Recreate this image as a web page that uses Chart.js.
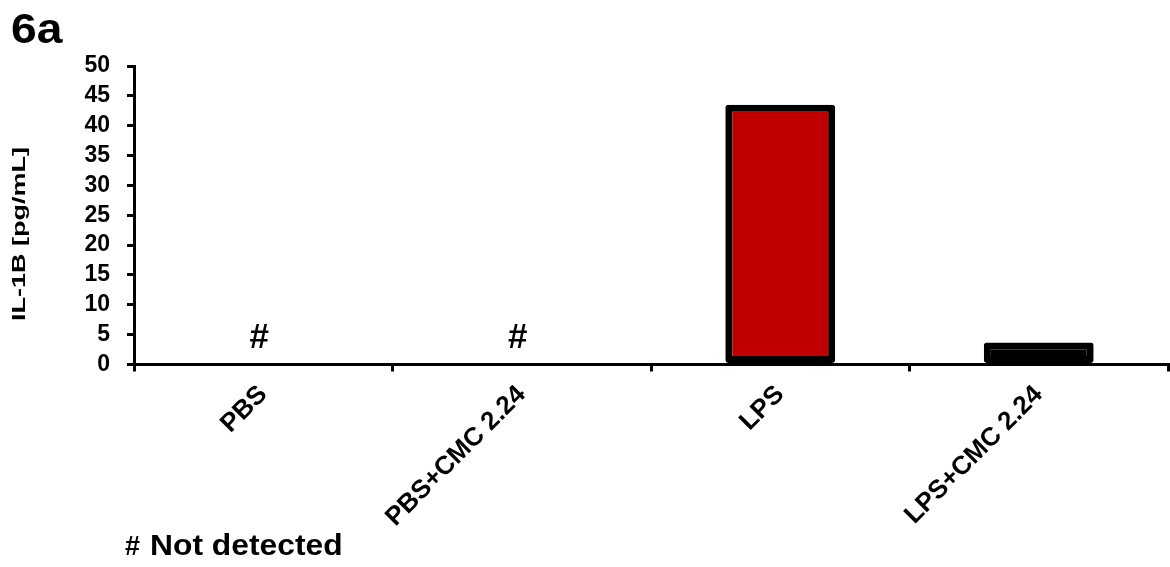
<!DOCTYPE html>
<html>
<head>
<meta charset="utf-8">
<script src="https://cdn.jsdelivr.net/npm/chart.js@4/dist/chart.umd.min.js"></script>
<style>
    html, body { margin: 0; padding: 0; background: #ffffff; }
    #wrap { width: 1170px; height: 567px; position: relative; }
</style>
</head>
<body>
<div id="wrap"><canvas id="chart"></canvas></div>
<script>
/* ==========================================================
   DATA
========================================================== */

const categories = ["PBS", "PBS+CMC 2.24", "LPS", "LPS+CMC 2.24"];

// null = not detected (drawn as "#")
const il1bValues = [null, null, 43.5, 3.7];

const yTicks = [0, 5, 10, 15, 20, 25, 30, 35, 40, 45, 50];

const FONT = "'Liberation Sans', Arial, sans-serif";

/* ==========================================================
   TEXT PLUGIN (title, y-title, # markers, footnote)
========================================================== */

const annotationsPlugin = {

    id: "annotations",

    afterDraw(chart) {

        const { ctx, scales: { x, y } } = chart;

        ctx.save();
        ctx.fillStyle = "#000000";
        ctx.textBaseline = "alphabetic";

        // panel label
        ctx.save();
        ctx.translate(11, 43);
        ctx.scale(1.1, 1);
        ctx.font = "bold 42px " + FONT;
        ctx.textAlign = "left";
        ctx.fillText("6a", 0, 0);
        ctx.restore();

        // "#" over not detected groups
        ctx.font = "bold 35px " + FONT;
        ctx.textAlign = "center";
        il1bValues.forEach((v, i) => {
            if (v == null) {
                ctx.fillText("#", x.getPixelForValue(i) - 4, y.getPixelForValue(0) - 17);
            }
        });

        // footnote
        ctx.textAlign = "left";
        ctx.font = "bold 27px " + FONT;
        ctx.fillText("#", 125, 555);
        ctx.save();
        ctx.translate(150, 555);
        ctx.scale(1.06, 1);
        ctx.font = "bold 30px " + FONT;
        ctx.fillText("Not detected", 0, 0);
        ctx.restore();

        // y axis title (stretched along its length like the original)
        ctx.translate(20, 234);
        ctx.rotate(-Math.PI / 2);
        ctx.scale(1.42, 1);
        ctx.font = "bold 19px " + FONT;
        ctx.textAlign = "center";
        ctx.textBaseline = "middle";
        ctx.fillText("IL-1B [pg/mL]", 0, 0);

        ctx.restore();

    }

};

/* ==========================================================
   CHART
========================================================== */

new Chart(document.getElementById("chart"), {

    type: "bar",

    data: {
        labels: categories,
        datasets: [{
            label: "IL-1B",
            data: il1bValues,
            backgroundColor: ["#c00000", "#c00000", "#c00000", "#000000"],
            borderColor: "#000000",
            borderWidth: 7,
            borderRadius: 3,
            borderSkipped: false,
            barPercentage: 0.425,
            categoryPercentage: 1
        }]
    },

    options: {

        responsive: true,
        maintainAspectRatio: false,
        animation: false,
        devicePixelRatio: 1,

        layout: {
            padding: { left: 0, right: 2, top: 66, bottom: 0 }
        },

        plugins: {
            legend: { display: false },
            tooltip: { enabled: false }
        },

        scales: {

            x: {
                afterFit(scale) {
                    scale.height = 202.5;
                },
                border: { display: true, color: "#000000", width: 3 },
                grid: {
                    offset: true,
                    drawOnChartArea: false,
                    drawTicks: true,
                    tickLength: 7,
                    color: "#000000",
                    lineWidth: 3
                },
                ticks: {
                    color: "#000000",
                    font: { family: FONT, size: 26, weight: "bold" },
                    minRotation: 45,
                    maxRotation: 45,
                    padding: 8
                }
            },

            y: {
                min: 0,
                max: 50,
                afterFit(scale) {
                    scale.width = 134;
                },
                afterBuildTicks(scale) {
                    scale.ticks = yTicks.map(v => ({ value: v }));
                },
                border: { display: true, color: "#000000", width: 3 },
                grid: {
                    drawOnChartArea: false,
                    drawTicks: true,
                    tickLength: 7,
                    color: "#000000",
                    lineWidth: 3
                },
                ticks: {
                    color: "#000000",
                    font: { family: FONT, size: 23, weight: "bold" },
                    padding: 17,
                    autoSkip: false
                }
            }

        }

    },

    plugins: [annotationsPlugin]

});
</script>
</body>
</html>
